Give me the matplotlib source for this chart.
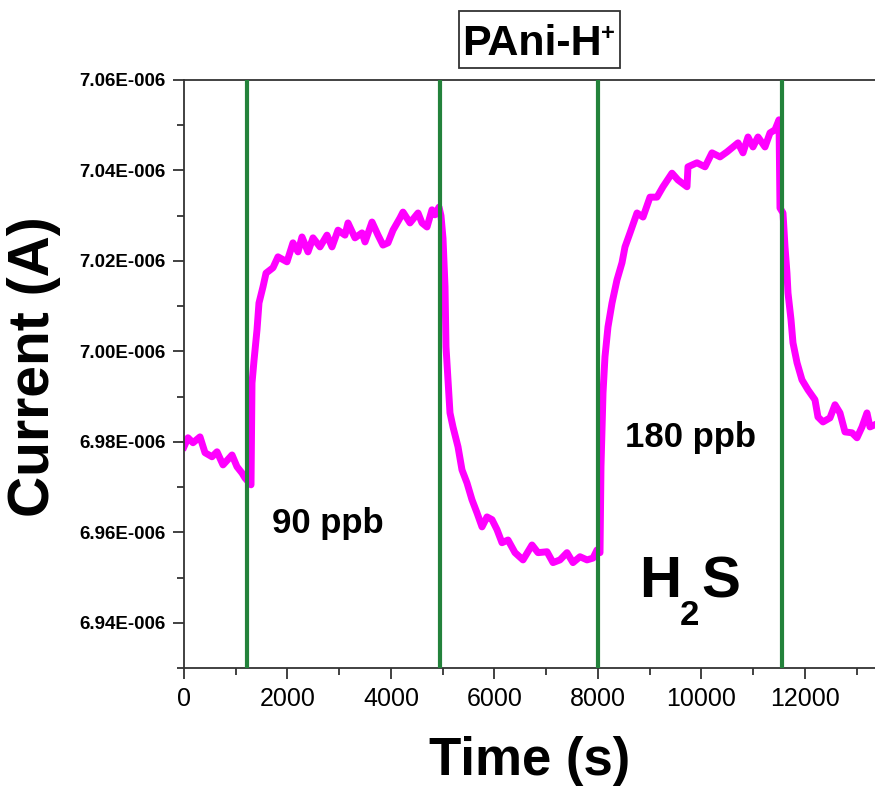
import matplotlib
matplotlib.use("Agg")
import matplotlib.pyplot as plt
from matplotlib.patches import Rectangle
from matplotlib.ticker import MultipleLocator, FuncFormatter

plt.rcParams["font.family"] = ["Liberation Sans", "DejaVu Sans"]

# Sensor response of PAni-H+ to H2S pulses (time in s, current in µA)
time_s = [
    0, 77, 174, 309, 406, 541, 638, 754, 928, 1024, 1121, 1179, 1295,
    1314, 1353, 1411, 1449, 1527, 1585, 1720, 1816, 1990, 2106, 2203, 2280,
    2396, 2493, 2628, 2763, 2860, 2976, 3111, 3169, 3304, 3440, 3498, 3633,
    3749, 3845, 3942, 4039, 4174, 4232, 4367, 4522, 4599, 4696, 4792, 4850,
    4928, 4966, 5005, 5044, 5063, 5102, 5140, 5198, 5295, 5372, 5469, 5565,
    5662, 5759, 5855, 5952, 6048, 6145, 6261, 6396, 6551, 6725, 6841, 7015,
    7131, 7266, 7401, 7517, 7652, 7788, 7904, 7981, 8039,
    8058, 8097, 8135, 8193, 8271, 8367, 8464, 8522, 8619, 8754, 8870, 9005,
    9140, 9256, 9430, 9546, 9720, 9739, 9913, 10068, 10203, 10358, 10493,
    10609, 10706, 10802, 10899, 10995, 11092, 11227, 11324, 11421, 11479,
    11498, 11517, 11575, 11614, 11652, 11672, 11730, 11768, 11846, 11942,
    12058, 12193, 12251, 12348, 12483, 12580, 12676, 12773, 12908, 13005,
    13102, 13198, 13256, 13353,
]
current_uA = [
    6.9789, 6.9809, 6.9798, 6.9811, 6.9776, 6.9767, 6.9778, 6.9749, 6.9771,
    6.9745, 6.9731, 6.9720, 6.9705,
    6.9930, 6.9980, 7.0048, 7.0107, 7.0143, 7.0173, 7.0185, 7.0209, 7.0198,
    7.0240, 7.0220, 7.0253, 7.0220, 7.0251, 7.0231, 7.0257, 7.0231, 7.0268,
    7.0257, 7.0284, 7.0251, 7.0262, 7.0242, 7.0286, 7.0257, 7.0235, 7.0240,
    7.0268, 7.0295, 7.0308, 7.0284, 7.0306, 7.0284, 7.0275, 7.0313, 7.0302,
    7.0319, 7.0300, 7.0250, 7.0143, 7.0010, 6.9937, 6.9864, 6.9833, 6.9789,
    6.9738, 6.9709, 6.9672, 6.9643, 6.9612, 6.9634, 6.9628, 6.9606, 6.9577,
    6.9583, 6.9555, 6.9539, 6.9572, 6.9555, 6.9557, 6.9533, 6.9539, 6.9555,
    6.9533, 6.9546, 6.9539, 6.9543, 6.9561, 6.9555,
    6.9745, 6.9908, 6.9988, 7.0054, 7.0107, 7.0158, 7.0196, 7.0231, 7.0262,
    7.0306, 7.0297, 7.0341, 7.0341, 7.0364, 7.0394, 7.0379, 7.0364, 7.0408,
    7.0417, 7.0408, 7.0439, 7.0430, 7.0441, 7.0452, 7.0461, 7.0439, 7.0474,
    7.0452, 7.0474, 7.0452, 7.0483, 7.0490, 7.0507,
    7.0512, 7.0317, 7.0306, 7.0231, 7.0173, 7.0129, 7.0070, 7.0019, 6.9975,
    6.9937, 6.9915, 6.9893, 6.9855, 6.9844, 6.9853, 6.9882, 6.9864, 6.9822,
    6.9820, 6.9809, 6.9833, 6.9864, 6.9833, 6.9838,
]
# Gas on/off switching times (s)
switch_times = [1223, 4941, 8006, 11562]

x_ticks = [0, 2000, 4000, 6000, 8000, 10000, 12000]
y_ticks = [6.94, 6.96, 6.98, 7.00, 7.02, 7.04, 7.06]

fig = plt.figure(figsize=(8.75, 7.98), dpi=100)
ax = fig.add_axes([184 / 875, 1 - 668 / 798, 1 - 184 / 875, (668 - 80) / 798])

ax.plot(time_s, current_uA, color="#ff00ff", lw=5, solid_joinstyle="round", zorder=2)
for t in switch_times:
    ax.axvline(t, color="#23823b", lw=3, zorder=3)

ax.set_xlim(0, 13353)
ax.set_ylim(6.93, 7.06)
ax.set_xticks(x_ticks)
ax.set_yticks(y_ticks)
ax.xaxis.set_minor_locator(MultipleLocator(1000))
ax.yaxis.set_minor_locator(MultipleLocator(0.01))
ax.yaxis.set_major_formatter(FuncFormatter(lambda v, p: f"{v:.2f}E-006"))

for s in ("left", "bottom", "top"):
    ax.spines[s].set_color("#333333")
    ax.spines[s].set_linewidth(1.3)
ax.spines["right"].set_visible(False)

ax.tick_params(axis="both", which="major", direction="out", length=8, width=1.3, color="#333333")
ax.tick_params(axis="both", which="minor", direction="out", length=5, width=1.3, color="#333333")
ax.tick_params(axis="x", which="major", labelsize=18, pad=6)
ax.tick_params(axis="y", which="major", labelsize=13.5, pad=5)
ax.tick_params(axis="x", which="both", top=False)
for lbl in ax.get_yticklabels():
    lbl.set_fontweight("bold")

ax.set_xlabel("Time (s)", fontsize=38, fontweight="bold")
ax.xaxis.set_label_coords(0.5, -0.115)

# Vertical axis title placed in figure coordinates
fig.text(34 / 875, 1 - 367 / 798, "Current (A)", fontsize=41, fontweight="bold",
         rotation=90, ha="center", va="center")

# Concentration labels
fig.text(272 / 875, 1 - 533 / 798, "90 ppb", fontsize=25, fontweight="bold", va="baseline")
fig.text(625 / 875, 1 - 447 / 798, "180 ppb", fontsize=25, fontweight="bold", va="baseline")

# H2S label
fig.text(639 / 875, 1 - 597 / 798, "H", fontsize=42, fontweight="bold", va="baseline")
fig.text(680 / 875, 1 - 625 / 798, "2", fontsize=25, fontweight="bold", va="baseline")
fig.text(701 / 875, 1 - 597 / 798, "S", fontsize=42, fontweight="bold", va="baseline")

# Boxed title
fig.text(462 / 875, 1 - 55 / 798, "PAni-H", fontsize=31, fontweight="bold", va="baseline")
fig.text(601 / 875, 1 - 40 / 798, "+", fontsize=17, fontweight="bold", va="baseline")
fig.add_artist(Rectangle((459 / 875, 1 - 68 / 798), (620 - 459) / 875, (68 - 11) / 798,
                         transform=fig.transFigure, fill=False, edgecolor="#333333", lw=1.3))

fig.savefig("out.png", dpi=100)
